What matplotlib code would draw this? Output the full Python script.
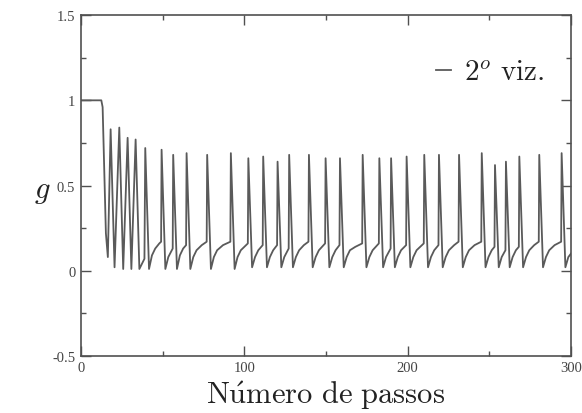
import matplotlib
matplotlib.use("Agg")
import matplotlib.pyplot as plt
from matplotlib.ticker import MultipleLocator

plt.rcParams["mathtext.fontset"] = "cm"

# Vertices of the g(t) trace (step number, value)
passos = [
    0.0, 12.5, 13.3, 14.2, 15.3, 16.5,
    18.2, 20.6,
    23.5, 25.9,
    28.6, 30.9,
    33.5, 35.8, 38.9,
    39.4, 41.7, 43.5, 45.5, 48.0, 49.1,
    49.4, 51.7, 53.5, 56.2,
    56.5, 58.8, 60.6, 62.6, 64.4,
    64.7, 67.0, 68.8, 70.8, 74.0, 77.0,
    77.3, 79.6, 81.4, 83.4, 87.0, 91.5,
    91.8, 94.1, 95.9, 97.9, 102.2,
    102.5, 104.8, 106.6, 108.6, 111.3,
    111.6, 113.9, 115.7, 117.7, 120.1,
    120.4, 122.7, 124.5, 127.2,
    127.5, 129.8, 131.6, 133.6, 136.5, 139.3,
    139.6, 141.9, 143.7, 145.7, 149.5,
    149.8, 152.1, 153.9, 155.9, 158.3,
    158.6, 160.9, 162.7, 164.7, 168.0, 172.2,
    172.5, 174.8, 176.6, 178.6, 182.4,
    182.7, 185.0, 186.8, 189.6,
    189.9, 192.2, 194.0, 196.0, 199.1,
    199.4, 201.7, 203.5, 205.5, 209.9,
    210.2, 212.5, 214.3, 216.3, 218.9,
    219.2, 221.5, 223.3, 225.3, 228.5, 231.2,
    231.5, 233.8, 235.6, 237.6, 241.0, 245.1,
    245.4, 247.7, 249.5, 251.5, 253.2,
    253.5, 255.8, 257.6, 259.9,
    260.2, 262.5, 264.3, 266.3, 268.1,
    268.4, 270.7, 272.5, 274.5, 277.5, 280.3,
    280.6, 282.9, 284.7, 286.7, 290.0, 294.0,
    294.3, 296.6, 298.4, 300.0,
]
g = [
    1.00, 1.00, 0.96, 0.62, 0.22, 0.08,
    0.83, 0.02,
    0.84, 0.01,
    0.78, 0.01,
    0.77, 0.01, 0.07,
    0.72, 0.01, 0.09, 0.13, 0.16, 0.17,
    0.71, 0.01, 0.08, 0.13,
    0.68, 0.01, 0.09, 0.13, 0.15,
    0.69, 0.01, 0.08, 0.12, 0.15, 0.17,
    0.68, 0.01, 0.08, 0.12, 0.15, 0.17,
    0.69, 0.01, 0.08, 0.12, 0.16,
    0.66, 0.02, 0.08, 0.12, 0.15,
    0.67, 0.02, 0.08, 0.12, 0.15,
    0.64, 0.02, 0.08, 0.13,
    0.68, 0.02, 0.08, 0.12, 0.15, 0.17,
    0.68, 0.02, 0.08, 0.12, 0.16,
    0.66, 0.02, 0.08, 0.12, 0.15,
    0.66, 0.02, 0.08, 0.12, 0.14, 0.16,
    0.68, 0.02, 0.08, 0.12, 0.16,
    0.66, 0.02, 0.08, 0.13,
    0.66, 0.02, 0.08, 0.12, 0.15,
    0.67, 0.02, 0.08, 0.12, 0.16,
    0.68, 0.02, 0.08, 0.12, 0.15,
    0.68, 0.02, 0.08, 0.12, 0.15, 0.17,
    0.68, 0.02, 0.08, 0.12, 0.15, 0.17,
    0.69, 0.02, 0.08, 0.12, 0.14,
    0.62, 0.02, 0.08, 0.12,
    0.64, 0.02, 0.08, 0.12, 0.14,
    0.67, 0.02, 0.08, 0.12, 0.15, 0.17,
    0.68, 0.02, 0.08, 0.12, 0.15, 0.17,
    0.69, 0.02, 0.08, 0.10,
]

x_ticks = [0, 100, 200, 300]
y_ticks = [-0.5, 0, 0.5, 1, 1.5]
y_tick_labels = ["-0.5", "0", "0.5", "1", "1.5"]

line_color = "#5a5a5a"
frame_color = "#505050"

fig = plt.figure(figsize=(5.82, 4.14), dpi=100)
ax = fig.add_axes([0.139, 0.138, 0.842, 0.823])

ax.plot(passos, g, color=line_color, lw=1.3, label=r"$2^{o}\ \mathrm{viz.}$")

ax.set_xlim(0, 300)
ax.set_ylim(-0.5, 1.5)
ax.set_xticks(x_ticks)
ax.set_yticks(y_ticks)
ax.set_yticklabels(y_tick_labels)
ax.xaxis.set_minor_locator(MultipleLocator(50))
ax.yaxis.set_minor_locator(MultipleLocator(0.25))

for side in ax.spines.values():
    side.set_color(frame_color)
    side.set_linewidth(1.2)

ax.tick_params(which="both", direction="in", top=True, right=True,
               colors=frame_color, width=1.0)
ax.tick_params(which="major", length=7.5, labelsize=10.5, pad=4,
               labelcolor="#444444")
ax.tick_params(which="minor", length=3.5)
for lab in ax.get_xticklabels() + ax.get_yticklabels():
    lab.set_family("Liberation Serif")

ax.set_xlabel(r"$\mathrm{N\acute{u}mero\ de\ passos}$", fontsize=22,
              labelpad=3, color="#222222")
ax.set_ylabel(r"$g$", fontsize=22, rotation=0, va="center", ha="center",
              color="#222222")
ax.yaxis.set_label_coords(-0.078, 0.485)

ax.legend(loc="center right", bbox_to_anchor=(0.945, 0.833), frameon=False,
          fontsize=21, handlelength=0.5, handletextpad=0.45,
          borderpad=0, borderaxespad=0, labelcolor="#222222")

fig.savefig("out.png", dpi=100)
